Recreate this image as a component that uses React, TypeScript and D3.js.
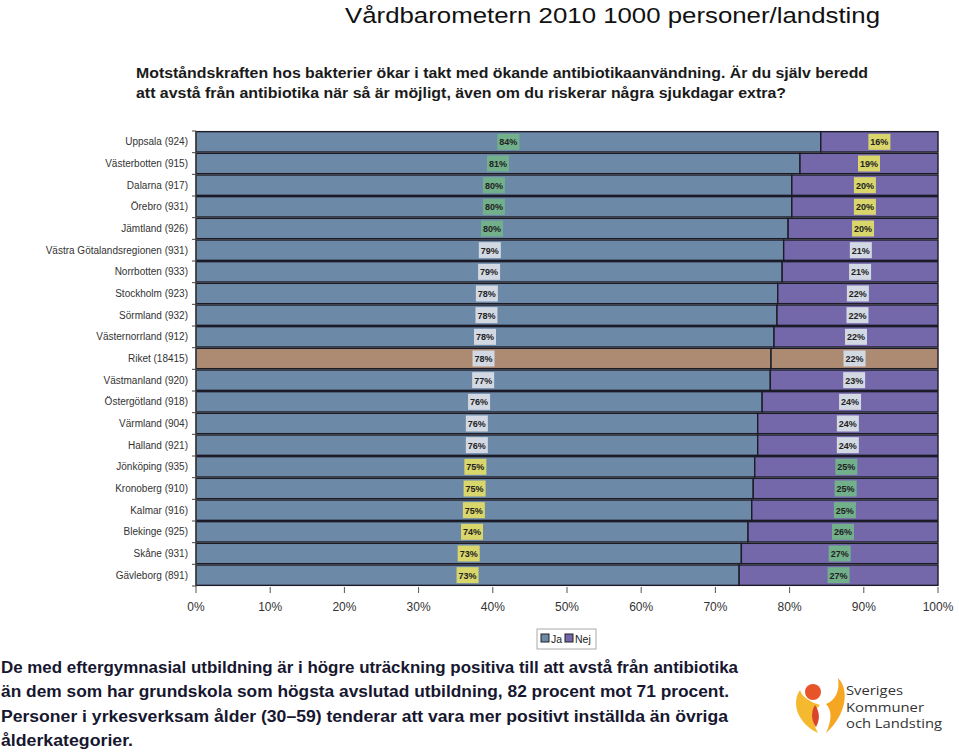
import React from "react";
import * as d3 from "d3";

const categories = [
  "Uppsala (924)", "Västerbotten (915)", "Dalarna (917)", "Örebro (931)", "Jämtland (926)",
  "Västra Götalandsregionen (931)", "Norrbotten (933)", "Stockholm (923)", "Sörmland (932)",
  "Västernorrland (912)", "Riket (18415)", "Västmanland (920)", "Östergötland (918)",
  "Värmland (904)", "Halland (921)", "Jönköping (935)", "Kronoberg (910)", "Kalmar (916)",
  "Blekinge (925)", "Skåne (931)", "Gävleborg (891)",
];
const jaValues = [84.2, 81.4, 80.3, 80.3, 79.8, 79.2, 79.0, 78.4, 78.3, 77.9, 77.5, 77.4, 76.3, 75.7, 75.7, 75.3, 75.1, 74.9, 74.4, 73.5, 73.2];
const nejValues = jaValues.map((v) => 100 - v);
const jaLabels = ["84%", "81%", "80%", "80%", "80%", "79%", "79%", "78%", "78%", "78%", "78%", "77%", "76%", "76%", "76%", "75%", "75%", "75%", "74%", "73%", "73%"];
const nejLabels = ["16%", "19%", "20%", "20%", "20%", "21%", "21%", "22%", "22%", "22%", "22%", "23%", "24%", "24%", "24%", "25%", "25%", "25%", "26%", "27%", "27%"];
const jaTier = [0, 0, 0, 0, 0, 1, 1, 1, 1, 1, 1, 1, 1, 1, 1, 2, 2, 2, 2, 2, 2];
const nejTier = [2, 2, 2, 2, 2, 1, 1, 1, 1, 1, 1, 1, 1, 1, 1, 0, 0, 0, 0, 0, 0];
const xTicks = [0, 10, 20, 30, 40, 50, 60, 70, 80, 90, 100];
const highlight = "Riket (18415)";
const seriesNames = ["Ja", "Nej"];

const title = "Vårdbarometern 2010 1000 personer/landsting";
const question = [
  "Motståndskraften hos bakterier ökar i takt med ökande antibiotikaanvändning. Är du själv beredd",
  "att avstå från antibiotika när så är möjligt, även om du riskerar några sjukdagar extra?",
];
const bodyLines = [
  "De med eftergymnasial utbildning är i högre uträckning positiva till att avstå från antibiotika",
  "än dem som har grundskola som högsta avslutad utbildning, 82 procent mot 71 procent.",
  "Personer i yrkesverksam ålder (30–59) tenderar att vara mer positivt inställda än övriga",
  "ålderkategorier.",
];
const logoLines = ["Sveriges", "Kommuner", "och Landsting"];

const JA = "#6d89a8";
const NEJ = "#7467aa";
const RIKET = "#ad8a72";
const tierColors = ["#72b08c", "#d3d9e3", "#d9d66b"];

export default function App() {
  const W = 959, H = 753;
  const x = d3.scaleLinear().domain([0, 100]).range([196, 938]);
  const y = d3.scaleBand().domain(categories).range([131, 586]).paddingInner(0.06).paddingOuter(0.03);
  const bodyWidths = [737, 728, 727, 132];

  return (
    <svg width={W} height={H} style={{ position: "absolute", left: 0, top: 0, background: "#fff" }}
      fontFamily="'Liberation Sans', Arial, sans-serif">
      <text x={345} y={23} fontSize={22} fill="#111" textLength={535} lengthAdjust="spacingAndGlyphs">{title}</text>
      {question.map((q, i) => (
        <text key={i} x={136} y={78 + i * 20} fontSize={14} fontWeight="bold" fill="#1a1a1a"
          fontFamily="'Liberation Sans Narrow', 'Arial Narrow', 'Liberation Sans', sans-serif"
          textLength={i === 0 ? 732 : 650} lengthAdjust="spacingAndGlyphs">{q}</text>
      ))}

      {/* bars */}
      {categories.map((c, i) => {
        const y0 = y(c)!;
        const h = y.bandwidth();
        const isR = c === highlight;
        const x0 = x(0), x1 = x(jaValues[i]), x2 = x(jaValues[i] + nejValues[i]);
        return (
          <g key={c}>
            <rect x={x0} y={y0} width={x1 - x0} height={h} fill={isR ? RIKET : JA} stroke="#1b1c28" strokeWidth={1.4} />
            <rect x={x1} y={y0} width={x2 - x1} height={h} fill={isR ? RIKET : NEJ} stroke="#1b1c28" strokeWidth={1.4} />
            <text x={188} y={y0 + h / 2 + 3.5} textAnchor="end" fontSize={10} fill="#333">{c}</text>
            <rect x={(x0 + x1) / 2 - 11} y={y0 + h / 2 - 8} width={22} height={16} fill={tierColors[jaTier[i]]} />
            <text x={(x0 + x1) / 2} y={y0 + h / 2 + 3.5} textAnchor="middle" fontSize={9} fontWeight="bold" fill="#222">{jaLabels[i]}</text>
            <rect x={(x1 + x2) / 2 - 11} y={y0 + h / 2 - 8} width={22} height={16} fill={tierColors[nejTier[i]]} />
            <text x={(x1 + x2) / 2} y={y0 + h / 2 + 3.5} textAnchor="middle" fontSize={9} fontWeight="bold" fill="#222">{nejLabels[i]}</text>
          </g>
        );
      })}
      {/* y axis */}
      <line x1={196} x2={196} y1={131} y2={587} stroke="#444" strokeWidth={1} />
      {categories.concat([""]).map((_, i) => {
        const yy = i < categories.length ? y(categories[i])! - (y.step() - y.bandwidth()) / 2 : 586;
        return <line key={i} x1={192} x2={196} y1={yy} y2={yy} stroke="#444" />;
      })}
      {/* x axis */}
      {xTicks.map((t) => (
        <g key={t}>
          <line x1={x(t)} x2={x(t)} y1={587} y2={593} stroke="#555" />
          <text x={x(t)} y={611} textAnchor="middle" fontSize={12} fill="#333">{t}%</text>
        </g>
      ))}
      {/* legend */}
      <rect x={537} y={629} width={59} height={20} fill="#fff" stroke="#aaa" />
      {seriesNames.map((s, i) => (
        <g key={s} transform={`translate(${541 + i * 24},634)`}>
          <rect width={8} height={8} fill={i === 0 ? JA : NEJ} stroke="#222" strokeWidth={1} />
          <text x={10} y={8.5} fontSize={10.5} fill="#222">{s}</text>
        </g>
      ))}

      {/* body text */}
      {bodyLines.map((l, i) => (
        <text key={i} x={1} y={673 + i * 24.3} fontSize={16} fontWeight="bold" fill="#171730"
          textLength={bodyWidths[i]} lengthAdjust="spacingAndGlyphs">{l}</text>
      ))}

      {/* logo */}
      <g>
        <path d="M800,690 C790,705 800,725 818,733 C812,722 812,712 820,705 C810,702 802,697 800,690 Z" fill="#f5b930" />
        <path d="M838,678 C850,690 846,715 826,733 C832,720 832,710 826,704 C836,700 840,690 838,678 Z" fill="#f5a623" />
        <circle cx={813} cy={692} r={8} fill="#e8542a" />
        <path d="M815,705 C810,713 812,722 816,727 C820,720 820,712 815,705 Z" fill="#d9452a" />
        {logoLines.map((l, i) => (
          <text key={i} x={846} y={695 + i * 16.5} fontSize={13} fill="#333" fontFamily="'Open Sans', sans-serif"
            textLength={i === 2 ? 96 : i === 1 ? 78 : 57} lengthAdjust="spacingAndGlyphs">{l}</text>
        ))}
      </g>
    </svg>
  );
}
